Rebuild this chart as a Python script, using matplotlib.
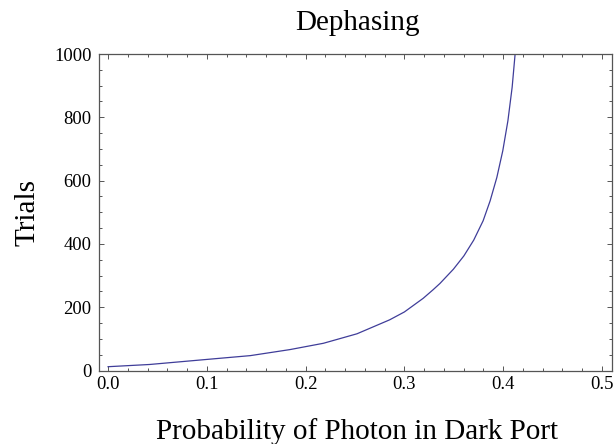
import matplotlib
matplotlib.use("Agg")
import matplotlib.pyplot as plt
from matplotlib.ticker import MultipleLocator, FixedLocator

# Data
prob = [0.000, 0.042, 0.100, 0.144, 0.184, 0.218, 0.252, 0.285, 0.300,
        0.319, 0.329, 0.336, 0.3496, 0.3602, 0.3702, 0.3797, 0.3868,
        0.3936, 0.3996, 0.4048, 0.4091, 0.4121]
trials = [12, 19, 35, 47, 66, 86, 116, 160, 185,
          228, 255, 275, 320, 362, 412, 473, 536,
          610, 694, 789, 895, 1000]

x_ticks = [0.0, 0.1, 0.2, 0.3, 0.4, 0.5]
x_tick_labels = ["0.0", "0.1", "0.2", "0.3", "0.4", "0.5"]
y_ticks = [0, 200, 400, 600, 800, 1000]
y_tick_labels = ["0", "200", "400", "600", "800", "1000"]

title = "Dephasing"
x_label = "Probability of Photon in Dark Port"
y_label = "Trials"

W, H = 614, 444
serif = ["Liberation Serif", "DejaVu Serif"]
plt.rcParams["font.family"] = serif

fig = plt.figure(figsize=(W / 100, H / 100), dpi=100)
left, right, top, bottom = 99.2, 612.3, 54.0, 370.5
ax = fig.add_axes([left / W, 1 - bottom / H, (right - left) / W, (bottom - top) / H])

line_color = (0.247, 0.24, 0.6)
ax.plot(prob, trials, color=line_color, lw=0.9, solid_joinstyle="round")

ax.set_xlim(-0.009, 0.5105)
ax.set_ylim(0, 1000)

frame_color = "#555555"
for s in ax.spines.values():
    s.set_color(frame_color)
    s.set_linewidth(0.9)

ax.xaxis.set_major_locator(FixedLocator(x_ticks))
ax.set_xticklabels(x_tick_labels)
ax.yaxis.set_major_locator(FixedLocator(y_ticks))
ax.set_yticklabels(y_tick_labels)
ax.xaxis.set_minor_locator(MultipleLocator(0.02))
ax.yaxis.set_minor_locator(MultipleLocator(50))

ax.tick_params(which="both", direction="in", top=True, right=True,
               color=frame_color, width=0.7)
ax.tick_params(which="major", length=3.9)
ax.tick_params(which="minor", length=2.0)
ax.tick_params(axis="x", which="major", pad=3.8, labelsize=13.4)
ax.tick_params(axis="y", which="major", pad=5.4, labelsize=13.4)

fig.text(357 / W, 1 - 30 / H, title, ha="center", va="baseline", fontsize=21)
fig.text(357 / W, 1 - 439 / H, x_label, ha="center", va="baseline", fontsize=21)
fig.text(40.5 / W, 1 - 212.3 / H, y_label, ha="right", va="center",
         rotation=90, fontsize=21)

fig.savefig("out.png", dpi=100)
